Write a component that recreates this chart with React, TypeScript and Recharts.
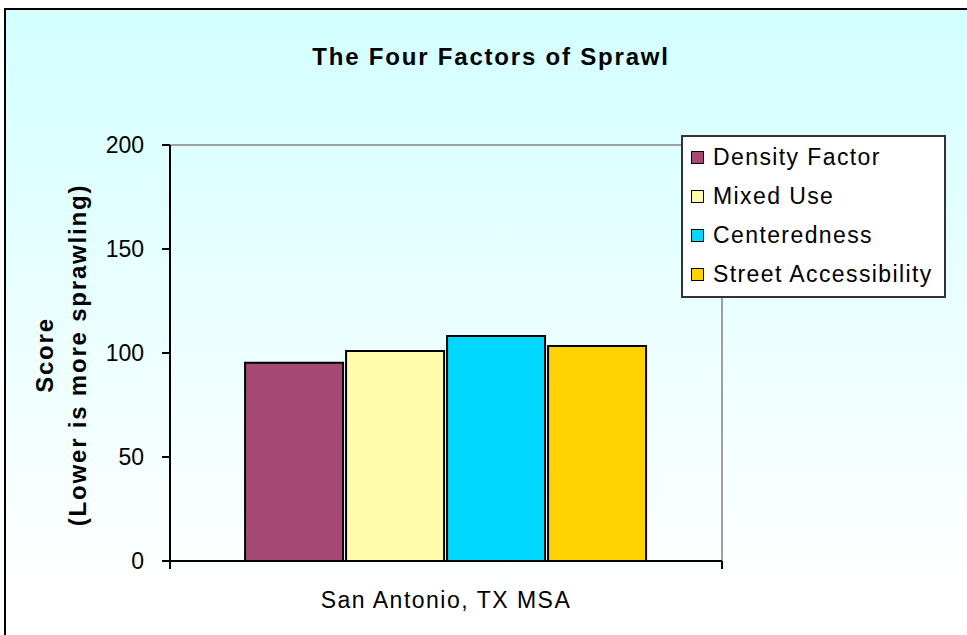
import React from 'react';
import { BarChart, Bar, XAxis, YAxis, Legend } from 'recharts';

const categories = ['San Antonio, TX MSA'];
const seriesNames = ['Density Factor', 'Mixed Use', 'Centeredness', 'Street Accessibility'];
const densityFactor = [95.3];
const mixedUse = [101.0];
const centeredness = [108.2];
const streetAccessibility = [103.4];
const yTicks = [0, 50, 100, 150, 200];
const seriesColors = ['#A64A75', '#FFFCAA', '#00D8FF', '#FFD200'];

const data = categories.map((c, i) => ({
  name: c,
  density: densityFactor[i],
  mixed: mixedUse[i],
  center: centeredness[i],
  street: streetAccessibility[i],
}));

const keys = ['density', 'mixed', 'center', 'street'];

const FONT = '"Liberation Sans", Arial, sans-serif';

const LegendBox = () => (
  <div
    style={{
      width: 265,
      height: 163,
      boxSizing: 'border-box',
      border: '2px solid #333',
      background: '#fff',
      paddingTop: 1,
      paddingLeft: 8,
      fontFamily: FONT,
    }}
  >
    {seriesNames.map((n, i) => (
      <div
        key={n}
        style={{ display: 'flex', alignItems: 'center', height: 39, fontSize: 23, letterSpacing: 1.4, color: '#000' }}
      >
        <span
          style={{
            display: 'inline-block',
            width: 11,
            height: 11,
            border: '1.5px solid #000',
            background: seriesColors[i],
            marginRight: 9,
          }}
        />
        <span>{n}</span>
      </div>
    ))}
  </div>
);

const YLabel = () => (
  <g>
    <text
      x={53}
      y={355}
      transform="rotate(-90 53 355)"
      textAnchor="middle"
      fontFamily={FONT}
      fontWeight="bold"
      fontSize={24}
      letterSpacing={1.8}
      fill="#000"
    >
      Score
    </text>
    <text
      x={86}
      y={355}
      transform="rotate(-90 86 355)"
      textAnchor="middle"
      fontFamily={FONT}
      fontWeight="bold"
      fontSize={24}
      letterSpacing={1.8}
      fill="#000"
    >
      (Lower is more sprawling)
    </text>
  </g>
);

const TICK_MARGIN = 31;

const XTick = (props: any) => {
  const { x, y, payload } = props;
  const w = typeof props.width === 'number' && props.width > 0 ? props.width : 552;
  const axisY = y - TICK_MARGIN;
  return (
    <g>
      <line x1={x - w / 2} y1={axisY} x2={x - w / 2} y2={axisY + 8} stroke="#000" strokeWidth={2} />
      <line x1={x + w / 2} y1={axisY} x2={x + w / 2} y2={axisY + 8} stroke="#000" strokeWidth={2} />
      <text
        x={x}
        y={y}
        dy="0.71em"
        textAnchor="middle"
        fill="#000"
        fontSize={23}
        fontFamily={FONT}
        letterSpacing={1.5}
      >
        {payload.value}
      </text>
    </g>
  );
};

export default function App() {
  return (
    <div style={{ position: 'absolute', left: 0, top: 0, width: 967, height: 635, overflow: 'hidden', background: '#fff' }}>
      <div
        style={{
          position: 'absolute',
          left: 4,
          top: 8,
          width: 980,
          height: 640,
          borderTop: '2px solid #000',
          borderLeft: '2px solid #000',
          background: 'linear-gradient(to bottom, #D3FFFF 0%, #FFFFFF 90%)',
        }}
      />
      <div
        style={{
          position: 'absolute',
          left: 0,
          top: 42,
          width: 982,
          height: 30,
          lineHeight: '30px',
          textAlign: 'center',
          fontFamily: FONT,
          fontWeight: 'bold',
          fontSize: 24,
          letterSpacing: 1.8,
          color: '#000',
        }}
      >
        The Four Factors of Sprawl
      </div>
      <div style={{ position: 'absolute', left: 0, top: 0 }}>
        <BarChart
          width={967}
          height={635}
          data={data}
          margin={{ top: 144, right: 244, left: 110, bottom: 34 }}
          barCategoryGap="13.6%"
          barGap={3}
        >
          <XAxis
            xAxisId="top"
            orientation="top"
            dataKey="name"
            height={1}
            tick={false}
            tickLine={false}
            axisLine={{ stroke: '#A0A0A0', strokeWidth: 2 }}
          />
          <YAxis
            yAxisId="right"
            orientation="right"
            width={1}
            tick={false}
            tickLine={false}
            axisLine={{ stroke: '#A0A0A0', strokeWidth: 2 }}
          />
          <XAxis
            dataKey="name"
            height={40}
            axisLine={{ stroke: '#000', strokeWidth: 2 }}
            tickLine={false}
            tickSize={0}
            tickMargin={TICK_MARGIN}
            tick={XTick}
          />
          <YAxis
            width={60}
            domain={[0, 200]}
            ticks={yTicks}
            interval={0}
            tickSize={8}
            tickMargin={18}
            tick={{ fill: '#000', fontSize: 23, fontFamily: FONT }}
            tickLine={{ stroke: '#000', strokeWidth: 2 }}
            axisLine={{ stroke: '#000', strokeWidth: 2 }}
            label={YLabel}
          />
          <Legend
            layout="vertical"
            align="center"
            verticalAlign="middle"
            content={LegendBox}
            wrapperStyle={{ position: 'absolute', left: 681, top: 135, width: 265, height: 163 }}
          />
          {keys.map((k, i) => (
            <Bar
              key={k}
              dataKey={k}
              name={seriesNames[i]}
              fill={seriesColors[i]}
              stroke="#000"
              strokeWidth={2}
              isAnimationActive={false}
            />
          ))}
        </BarChart>
      </div>
    </div>
  );
}
